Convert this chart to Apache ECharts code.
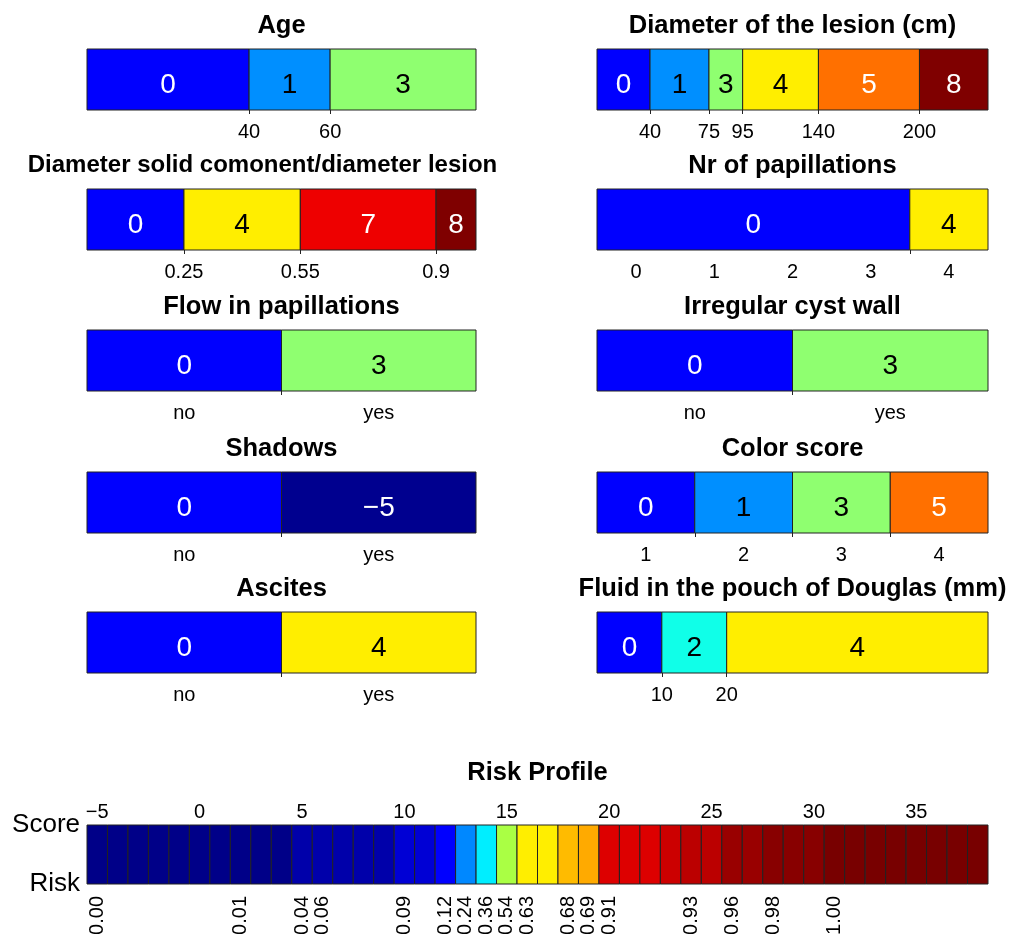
<!DOCTYPE html>
<html>
<head>
<meta charset="utf-8">
<script src="https://cdn.jsdelivr.net/npm/echarts@6/dist/echarts.min.js"></script>
<style>
html,body{margin:0;padding:0;background:#fff;}
#chart{width:1010px;height:934px;}
</style>
</head>
<body>
<div id="chart"></div>
<script>
// ---------- DATA ----------
// Each panel: segment edges (first/last = axis range), score of each segment, tick + label positions
const panelTitles = [
  'Age', 'Diameter of the lesion (cm)',
  'Diameter solid comonent/diameter lesion', 'Nr of papillations',
  'Flow in papillations', 'Irregular cyst wall',
  'Shadows', 'Color score',
  'Ascites', 'Fluid in the pouch of Douglas (mm)'
];
const ageEdges = [0, 40, 60, 96];
const ageScores = [0, 1, 3];
const ageLabels = [40, 60];

const lesionEdges = [8.5, 40, 75, 95, 140, 200, 240.7];
const lesionScores = [0, 1, 3, 4, 5, 8];
const lesionLabels = [40, 75, 95, 140, 200];

const solidEdges = [0, 0.25, 0.55, 0.9, 1.003];
const solidScores = [0, 4, 7, 8];
const solidLabels = [0.25, 0.55, 0.9];

const papEdges = [-0.5, 3.5, 4.5];
const papScores = [0, 4];
const papLabels = [0, 1, 2, 3, 4];

const flowEdges = [-0.5, 0.5, 1.5];
const flowScores = [0, 3];

const wallEdges = [-0.5, 0.5, 1.5];
const wallScores = [0, 3];

const shadowEdges = [-0.5, 0.5, 1.5];
const shadowScores = [0, -5];

const colorEdges = [0.5, 1.5, 2.5, 3.5, 4.5];
const colorScores = [0, 1, 3, 5];
const colorLabels = [1, 2, 3, 4];

const ascitesEdges = [-0.5, 0.5, 1.5];
const ascitesScores = [0, 4];

const fluidEdges = [0, 10, 20, 60.3];
const fluidScores = [0, 2, 4];
const fluidLabels = [10, 20];

const yesNoLabels = ['no', 'yes'];

// Risk profile
const riskScores = [-5,-4,-3,-2,-1,0,1,2,3,4,5,6,7,8,9,10,11,12,13,14,15,16,17,18,19,20,
                    21,22,23,24,25,26,27,28,29,30,31,32,33,34,35,36,37,38];
const riskTopTicks = [-5, 0, 5, 10, 15, 20, 25, 30, 35];
const riskLabelScores = [-5, 2, 5, 6, 10, 12, 13, 14, 15, 16, 18, 19, 20, 24, 26, 28, 31];
const riskLabelValues = ['0.00','0.01','0.04','0.06','0.09','0.12','0.24','0.36','0.54','0.63',
                         '0.68','0.69','0.91','0.93','0.96','0.98','1.00'];
const riskRowLabels = ['Risk', 'Score'];

// ---------- STYLE ----------
const riskColors = [
  '#000088','#000088','#000088','#000088','#000088','#000088','#000088','#000088','#000088','#000088',
  '#0000AA','#0000AA','#0000AA','#0000AA','#0000AA',
  '#0000D5','#0000D5','#0000FF','#0088FF','#00EEFF','#AAFF44',
  '#FFEE00','#FFEE00','#FFBB00','#FFAA00',
  '#DD0000','#DD0000','#DD0000','#CC0000','#BB0000','#BB0000',
  '#990000','#990000','#880000','#880000','#880000',
  '#780000','#780000','#780000','#780000','#780000','#780000','#780000','#780000'
];
const scoreColor = {'-5':'#00008F','0':'#0000FF','1':'#008FFF','2':'#10FFE8','3':'#8FFF70',
                    '4':'#FFEE00','5':'#FF7000','7':'#EE0000','8':'#7F0000'};
const darkText = {'-5':true,'0':true,'5':true,'7':true,'8':true};
const FONT = '"Liberation Sans", Arial, Helvetica, sans-serif';

const panels = [
  {edges: ageEdges, scores: ageScores, labels: ageLabels, ticks: ageLabels},
  {edges: lesionEdges, scores: lesionScores, labels: lesionLabels, ticks: lesionLabels},
  {edges: solidEdges, scores: solidScores, labels: solidLabels, ticks: solidLabels, titleShift: -19, titleSize: 24},
  {edges: papEdges, scores: papScores, labels: papLabels, ticks: [3.5]},
  {edges: flowEdges, scores: flowScores, labels: [0, 1], ticks: [0.5], names: yesNoLabels},
  {edges: wallEdges, scores: wallScores, labels: [0, 1], ticks: [0.5], names: yesNoLabels},
  {edges: shadowEdges, scores: shadowScores, labels: [0, 1], ticks: [0.5], names: yesNoLabels},
  {edges: colorEdges, scores: colorScores, labels: colorLabels, ticks: [1.5, 2.5, 3.5]},
  {edges: ascitesEdges, scores: ascitesScores, labels: [0, 1], ticks: [0.5], names: yesNoLabels},
  {edges: fluidEdges, scores: fluidScores, labels: fluidLabels, ticks: fluidLabels}
];

const colLeft = [87, 597];
const colWidth = [389, 391];
const rowTop = [49, 189, 330, 472, 612];
const barH = 61;

const grids = [], xAxes = [], yAxes = [], series = [], titles = [];

function fmtNum(v) { return v < 0 ? '\u2212' + (-v) : String(v); }

function segRender(params, api) {
  const x0 = api.value(0), x1 = api.value(1), s = api.value(2);
  const a = api.coord([x0, 1]), b = api.coord([x1, 0]);
  return {
    type: 'group',
    children: [
      {type: 'rect', shape: {x: a[0], y: a[1], width: b[0] - a[0], height: b[1] - a[1]},
       style: {fill: scoreColor[String(s)], stroke: '#222', lineWidth: 1}},
      {type: 'text', style: {text: fmtNum(s), x: (a[0] + b[0]) / 2, y: (a[1] + b[1]) / 2 + 6,
        align: 'center', verticalAlign: 'middle', fill: darkText[String(s)] ? '#fff' : '#000',
        fontSize: 28, fontFamily: FONT}}
    ]
  };
}

panels.forEach((p, i) => {
  const col = i % 2, row = Math.floor(i / 2);
  grids.push({left: colLeft[col], top: rowTop[row], width: colWidth[col], height: barH,
              outerBoundsMode: 'none', containLabel: false});
  xAxes.push({
    type: 'value', gridIndex: i, min: p.edges[0], max: p.edges[p.edges.length - 1],
    axisLine: {show: false}, splitLine: {show: false},
    axisTick: {show: true, customValues: p.ticks, length: 4, lineStyle: {color: '#222', width: 1}},
    axisLabel: {
      customValues: p.labels, fontSize: 20, color: '#000', fontFamily: FONT, margin: 12,
      formatter: p.names ? (v => p.names[Math.round(v)]) : (v => String(v))
    }
  });
  yAxes.push({type: 'value', gridIndex: i, min: 0, max: 1, show: false});
  series.push({
    type: 'custom', xAxisIndex: i, yAxisIndex: i, renderItem: segRender,
    data: p.scores.map((s, k) => [p.edges[k], p.edges[k + 1], s]), silent: true
  });
  titles.push({
    text: panelTitles[i], left: colLeft[col] + colWidth[col] / 2 + (p.titleShift || 0),
    top: rowTop[row] - 36,
    textAlign: 'center', padding: 0,
    textStyle: {fontSize: p.titleSize || 25.5, fontWeight: 'bold', color: '#000', fontFamily: FONT}
  });
});

// Risk profile
const R = panels.length;
grids.push({left: 87, top: 825, width: 901, height: 59, outerBoundsMode: 'none', containLabel: false});
xAxes.push({
  type: 'value', gridIndex: R, position: 'top', min: -5.5, max: 38.5,
  axisLine: {show: false}, splitLine: {show: false}, axisTick: {show: false},
  axisLabel: {customValues: riskTopTicks, fontSize: 20, color: '#000', fontFamily: FONT, margin: 3,
              formatter: v => fmtNum(v)}
});
xAxes.push({
  type: 'value', gridIndex: R, position: 'bottom', min: -5.5, max: 38.5,
  axisLine: {show: false}, splitLine: {show: false}, axisTick: {show: false},
  axisLabel: {customValues: riskLabelScores, rotate: 90, fontSize: 20, color: '#000', fontFamily: FONT,
              margin: 12, formatter: v => riskLabelValues[riskLabelScores.indexOf(Math.round(v))]}
});
yAxes.push({
  type: 'value', gridIndex: R, min: 0, max: 1,
  axisLine: {show: false}, splitLine: {show: false}, axisTick: {show: false},
  axisLabel: {customValues: [0, 1], fontSize: 26, color: '#000', fontFamily: FONT, margin: 7,
              formatter: v => riskRowLabels[Math.round(v)]}
});
series.push({
  type: 'custom', xAxisIndex: R, yAxisIndex: R, silent: true,
  data: riskScores.map((s, k) => [s, k]),
  renderItem: function (params, api) {
    const s = api.value(0), k = api.value(1);
    const a = api.coord([s - 0.5, 1]), b = api.coord([s + 0.5, 0]);
    return {type: 'rect', shape: {x: a[0], y: a[1], width: b[0] - a[0], height: b[1] - a[1]},
            style: {fill: riskColors[k], stroke: '#222', lineWidth: 1}};
  }
});
titles.push({
  text: 'Risk Profile', left: 537.5, top: 760, textAlign: 'center', padding: 0,
  textStyle: {fontSize: 25.5, fontWeight: 'bold', color: '#000', fontFamily: FONT}
});

const chart = echarts.init(document.getElementById('chart'), null, {renderer: 'canvas'});
chart.setOption({
  animation: false,
  backgroundColor: '#fff',
  title: titles,
  grid: grids,
  xAxis: xAxes,
  yAxis: yAxes,
  series: series
});
</script>
</body>
</html>
